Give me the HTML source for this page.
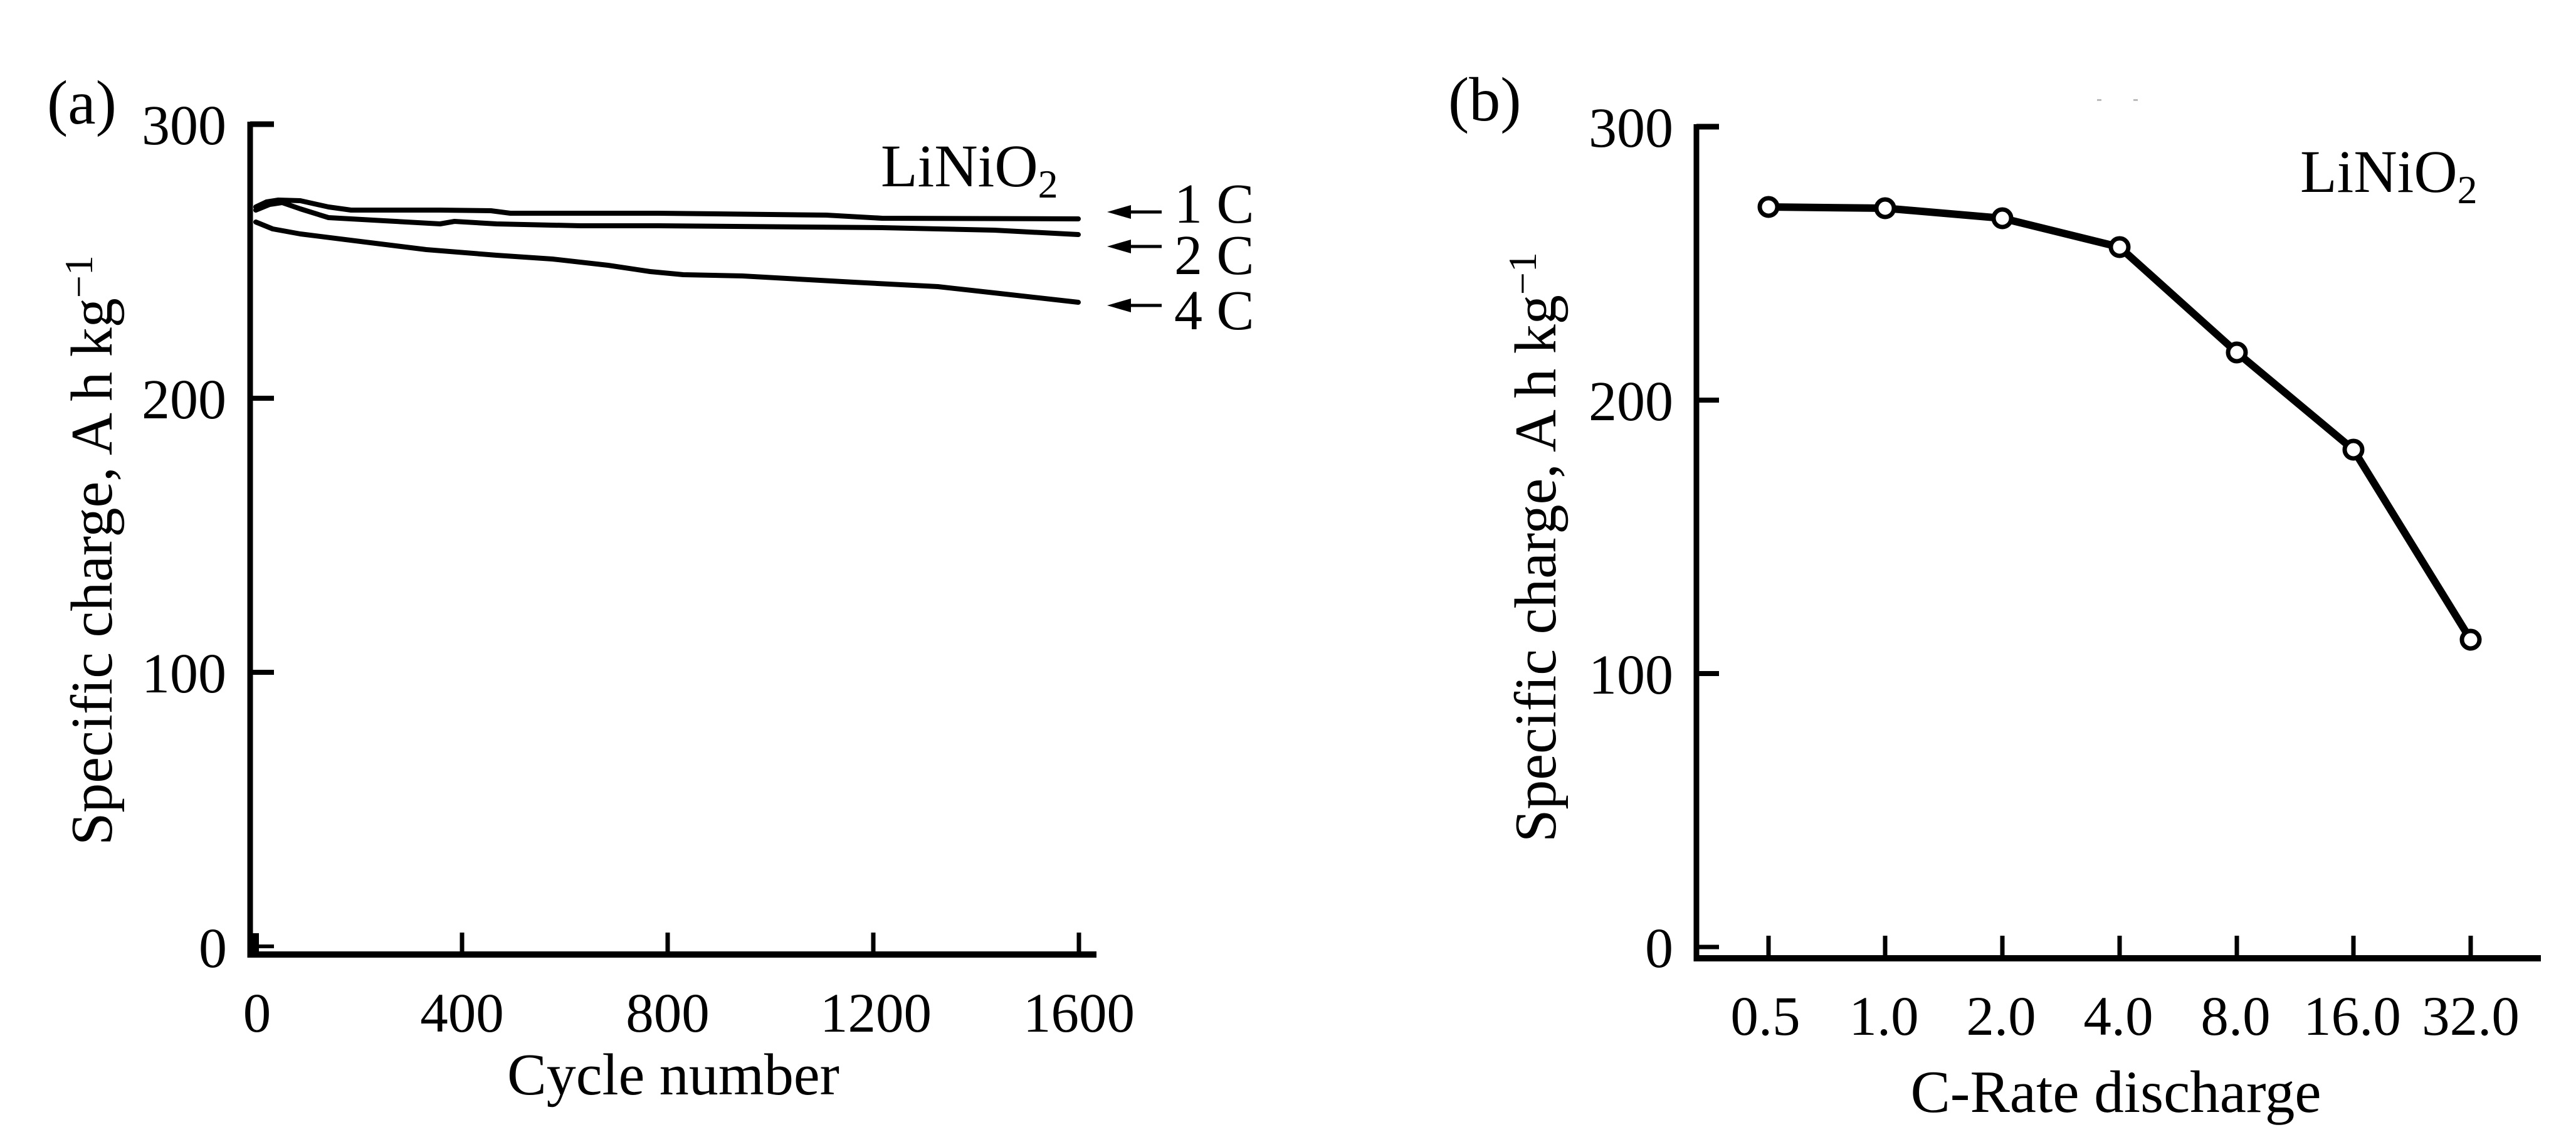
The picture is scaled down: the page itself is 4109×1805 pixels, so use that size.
<!DOCTYPE html>
<html>
<head>
<meta charset="utf-8">
<style>
  html,body{margin:0;padding:0;background:#fff;}
  svg{display:block;}
  text{font-family:"Liberation Serif","Times New Roman",serif;fill:#000;}
</style>
</head>
<body>
<svg width="4109" height="1805" viewBox="0 0 4109 1805" xmlns="http://www.w3.org/2000/svg">
  <rect x="0" y="0" width="4109" height="1805" fill="#fff"/>

  <!-- ================= PANEL A ================= -->
  <text x="75" y="197" font-size="100">(a)</text>

  <!-- axes -->
  <line x1="399" y1="194" x2="399" y2="1527" stroke="#000" stroke-width="9"/>
  <line x1="395" y1="1522" x2="1749" y2="1522" stroke="#000" stroke-width="10"/>
  <!-- y ticks -->
  <line x1="399" y1="198" x2="437" y2="198" stroke="#000" stroke-width="9"/>
  <line x1="399" y1="635" x2="437" y2="635" stroke="#000" stroke-width="8"/>
  <line x1="399" y1="1072" x2="437" y2="1072" stroke="#000" stroke-width="8"/>
  <line x1="399" y1="1509" x2="437" y2="1509" stroke="#000" stroke-width="6"/>
  <!-- x ticks -->
  <line x1="408" y1="1488" x2="408" y2="1522" stroke="#000" stroke-width="10"/>
  <line x1="737" y1="1487" x2="737" y2="1522" stroke="#000" stroke-width="7"/>
  <line x1="1065" y1="1487" x2="1065" y2="1522" stroke="#000" stroke-width="7"/>
  <line x1="1393" y1="1487" x2="1393" y2="1522" stroke="#000" stroke-width="7"/>
  <line x1="1721" y1="1487" x2="1721" y2="1522" stroke="#000" stroke-width="7"/>

  <!-- y tick labels -->
  <text x="361" y="230" font-size="90" text-anchor="end">300</text>
  <text x="361" y="667" font-size="90" text-anchor="end">200</text>
  <text x="361" y="1104" font-size="90" text-anchor="end">100</text>
  <text x="362" y="1542" font-size="90" text-anchor="end">0</text>

  <!-- x tick labels -->
  <text x="410" y="1645" font-size="89" text-anchor="middle">0</text>
  <text x="737" y="1645" font-size="89" text-anchor="middle">400</text>
  <text x="1065" y="1645" font-size="89" text-anchor="middle">800</text>
  <text x="1397" y="1645" font-size="89" text-anchor="middle">1200</text>
  <text x="1721" y="1645" font-size="89" text-anchor="middle">1600</text>

  <!-- axis titles -->
  <text x="1074" y="1745" font-size="94" text-anchor="middle">Cycle number</text>
  <text transform="translate(178,1348) rotate(-90)" font-size="94">Specific charge, A h kg<tspan dy="-31" font-size="64">−1</tspan></text>

  <!-- LiNiO2 label -->
  <text x="1405" y="297" font-size="96">LiNiO<tspan dy="18" font-size="64">2</tspan></text>

  <!-- curves -->
  <g fill="none" stroke="#000" stroke-width="8" stroke-linejoin="round" stroke-linecap="round">
    <!-- 1C -->
    <path d="M408,330 L425,322 L444,319 L479,320 L524,330 L560,335 L702,335 L783,336 L814,340 L1050,340 L1318,343 L1407,348 L1720,349"/>
    <!-- 2C -->
    <path d="M408,335 L430,326 L450,323 L479,333 L524,347 L613,352 L702,357 L725,353 L792,357 L926,360 L1050,360 L1407,363 L1586,367 L1720,374"/>
    <!-- 4C -->
    <path d="M408,354 L435,365 L479,373 L591,387 L680,398 L792,407 L881,413 L970,423 L1037,433 L1090,438 L1184,440 L1362,450 L1496,457 L1586,467 L1720,482"/>
  </g>

  <!-- arrows -->
  <g stroke="#000" stroke-width="5">
    <line x1="1795" y1="338" x2="1853" y2="338"/>
    <line x1="1795" y1="393" x2="1853" y2="393"/>
    <line x1="1795" y1="487" x2="1853" y2="487"/>
  </g>
  <g fill="#000">
    <polygon points="1766,338 1804,327 1804,349"/>
    <polygon points="1766,393 1804,382 1804,404"/>
    <polygon points="1766,487 1804,476 1804,498"/>
  </g>
  <text x="1873" y="355" font-size="90">1 C</text>
  <text x="1873" y="437" font-size="90">2 C</text>
  <text x="1873" y="525" font-size="90">4 C</text>

  <!-- ================= PANEL B ================= -->
  <text x="2310" y="192" font-size="100">(b)</text>

  <!-- faint marks -->
  <rect x="3345" y="158" width="7" height="3" fill="#bbb"/>
  <rect x="3403" y="158" width="7" height="3" fill="#bbb"/>

  <!-- axes -->
  <line x1="2706" y1="198" x2="2706" y2="1533" stroke="#000" stroke-width="9"/>
  <line x1="2702" y1="1528" x2="4053" y2="1528" stroke="#000" stroke-width="10"/>
  <!-- y ticks -->
  <line x1="2706" y1="202" x2="2742" y2="202" stroke="#000" stroke-width="9"/>
  <line x1="2706" y1="638" x2="2742" y2="638" stroke="#000" stroke-width="8"/>
  <line x1="2706" y1="1074" x2="2742" y2="1074" stroke="#000" stroke-width="8"/>
  <line x1="2706" y1="1510" x2="2742" y2="1510" stroke="#000" stroke-width="7"/>
  <!-- x ticks -->
  <g stroke="#000" stroke-width="7">
    <line x1="2821" y1="1492" x2="2821" y2="1528"/>
    <line x1="3007" y1="1492" x2="3007" y2="1528"/>
    <line x1="3194" y1="1492" x2="3194" y2="1528"/>
    <line x1="3381" y1="1492" x2="3381" y2="1528"/>
    <line x1="3568" y1="1492" x2="3568" y2="1528"/>
    <line x1="3754" y1="1492" x2="3754" y2="1528"/>
    <line x1="3941" y1="1492" x2="3941" y2="1528"/>
  </g>

  <!-- y tick labels -->
  <text x="2669" y="234" font-size="90" text-anchor="end">300</text>
  <text x="2669" y="670" font-size="90" text-anchor="end">200</text>
  <text x="2669" y="1106" font-size="90" text-anchor="end">100</text>
  <text x="2669" y="1542" font-size="90" text-anchor="end">0</text>

  <!-- x tick labels -->
  <g font-size="89" text-anchor="middle">
    <text x="2816" y="1650">0.5</text>
    <text x="3005" y="1650">1.0</text>
    <text x="3192" y="1650">2.0</text>
    <text x="3379" y="1650">4.0</text>
    <text x="3566" y="1650">8.0</text>
    <text x="3752" y="1650">16.0</text>
    <text x="3941" y="1650">32.0</text>
  </g>

  <!-- axis titles -->
  <text x="3375" y="1773" font-size="95" text-anchor="middle">C-Rate discharge</text>
  <text transform="translate(2481,1343) rotate(-90)" font-size="94">Specific charge, A h kg<tspan dy="-31" font-size="64">−1</tspan></text>

  <!-- LiNiO2 label -->
  <text x="3669" y="306" font-size="96">LiNiO<tspan dy="18" font-size="64">2</tspan></text>

  <!-- series -->
  <polyline fill="none" stroke="#000" stroke-width="12" stroke-linejoin="round"
    points="2821,330 3007,332 3194,348 3381,394 3568,562 3754,717 3941,1020"/>
  <g fill="#fff" stroke="#000" stroke-width="7">
    <circle cx="2821" cy="330" r="14"/>
    <circle cx="3007" cy="332" r="14"/>
    <circle cx="3194" cy="348" r="14"/>
    <circle cx="3381" cy="394" r="14"/>
    <circle cx="3568" cy="562" r="14"/>
    <circle cx="3754" cy="717" r="14"/>
    <circle cx="3941" cy="1020" r="14"/>
  </g>
</svg>
</body>
</html>
